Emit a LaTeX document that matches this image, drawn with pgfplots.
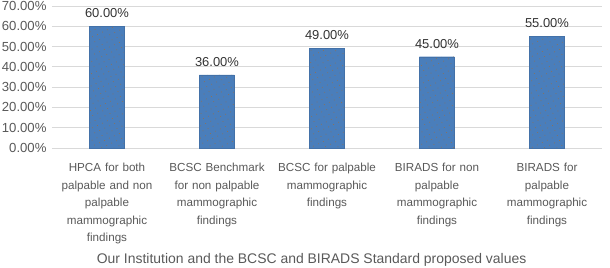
\documentclass[border=0pt]{standalone}
\usepackage{fontspec}
\setmainfont{Liberation Sans}
\usepackage{pgfplots}
\pgfplotsset{compat=1.18}
\usetikzlibrary{patterns.meta}
\definecolor{barblue}{RGB}{74,126,187}
\definecolor{txtgray}{RGB}{89,89,89}
\definecolor{gridgray}{RGB}{217,217,217}
\definecolor{dotbrown}{RGB}{160,110,60}
\begin{document}
\begin{tikzpicture}
\path[use as bounding box] (-52bp,-120bp) rectangle (558bp,148bp);
\begin{axis}[
  scale only axis,
  width=550bp, height=142bp,
  xmin=-0.5, xmax=4.5,
  ymin=0, ymax=70,
  ytick={0,10,...,70},
  yticklabels={0.00\%,10.00\%,20.00\%,30.00\%,40.00\%,50.00\%,60.00\%,70.00\%},
  xtick={0,1,2,3,4},
  xticklabels={
    HPCA for both\\palpable and non\\palpable\\mammographic\\findings,
    BCSC Benchmark\\for non palpable\\mammographic\\findings,
    BCSC for palpable\\mammographic\\findings,
    BIRADS for non\\palpable\\mammographic\\findings,
    BIRADS for\\palpable\\mammographic\\findings},
  xticklabel style={align=center, text width=110bp, font=\fontsize{11.7}{17.5}\selectfont, text=txtgray, yshift=-12bp},
  yticklabel style={font=\fontsize{13.2}{15}\selectfont, text=txtgray, xshift=-2bp},
  major tick length=0pt,
  axis line style={draw=none},
  ymajorgrids,
  grid style={gridgray, line width=0.8bp},
  xlabel={Our Institution and the BCSC and BIRADS Standard proposed values},
  xlabel style={at={(axis description cs:0.472,0)}, anchor=center, yshift=-112bp, font=\fontsize{14}{16}\selectfont, text=txtgray},
  /pgf/number format/assume math mode=true,
  nodes near coords={\pgfmathprintnumber[fixed,fixed zerofill,precision=2,assume math mode=true]{\pgfplotspointmeta}\%},
  every node near coord/.append style={font=\fontsize{13}{15}\selectfont, text=black!80, yshift=5bp},
]
\addplot[ybar, bar width=35bp, fill=barblue, draw=barblue!90!black, line width=0.4bp,
  postaction={pattern={Dots[radius=0.45bp, distance=5.5bp, angle=25]}, pattern color=dotbrown}]
  coordinates {(0,60) (1,36) (2,49) (3,45) (4,55)};
\end{axis}
\end{tikzpicture}
\end{document}
